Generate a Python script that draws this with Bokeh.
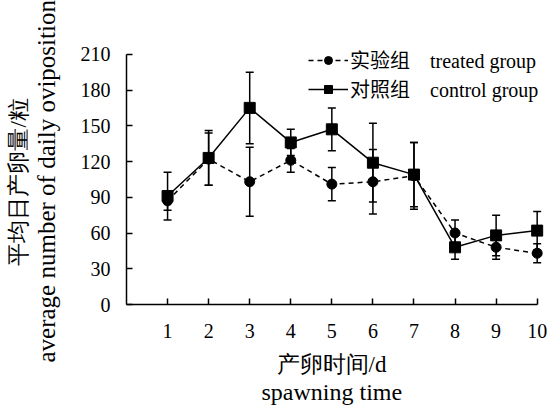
from bokeh.plotting import figure
from bokeh.models import (ColumnDataSource, Whisker, TeeHead, Range1d, FixedTicker,
                          Title, Legend, LegendItem)
from bokeh.embed import file_html
from bokeh.resources import INLINE

# ---- data ----
days = [1, 2, 3, 4, 5, 6, 7, 8, 9, 10]
treated_mean = [87, 122, 103, 121, 101, 103, 108, 60, 48, 43]
treated_err = [8, 22, 29, 10, 14, 27, 28, 11, 10, 8]
control_mean = [91, 123, 165, 136, 147, 119, 109, 48, 58, 62]
control_err = [20, 23, 30, 11, 18, 33, 27, 10, 17, 16]
y_ticks = [0, 30, 60, 90, 120, 150, 180, 210]

treated_label = "实验组\u00a0\u00a0\u00a0\u00a0treated group"
control_label = "对照组\u00a0\u00a0\u00a0\u00a0control group"
x_title_cn = "产卵时间/d"
x_title_en = "spawning time"
y_title_cn = "平均日产卵量/粒"
y_title_en = "average number of daily oviposition"

SERIF = "Liberation Serif, Noto Sans CJK SC"
TSERIF = "Liberation Serif"

p = figure(width=550, height=408, output_backend="svg", toolbar_location=None,
           x_range=Range1d(0, 10.3), y_range=Range1d(0, 240),
           min_border_left=126, min_border_right=1, min_border_top=18,
           min_border_bottom=104)
p.outline_line_color = None
p.xgrid.visible = False
p.ygrid.visible = False
p.background_fill_color = "white"
p.border_fill_color = "white"

for ax in (p.xaxis[0], p.yaxis[0]):
    ax.major_tick_in = 6
    ax.major_tick_out = 0
    ax.minor_tick_line_color = None
    ax.axis_line_width = 1.5
    ax.major_tick_line_width = 1.5
    ax.axis_line_color = "black"
    ax.major_tick_line_color = "black"
    ax.major_label_text_font = SERIF
    ax.major_label_text_font_size = "20px"
    ax.major_label_text_color = "black"
    # invisible spacer label (keeps the titles at their place)
    ax.axis_label = " "
    ax.axis_label_text_font_size = "1px"

p.xaxis[0].ticker = FixedTicker(ticks=days)
p.xaxis[0].bounds = (0, 10)
p.xaxis[0].major_label_standoff = 19
p.xaxis[0].axis_label_standoff = 6
p.yaxis[0].ticker = FixedTicker(ticks=y_ticks)
p.yaxis[0].bounds = (0, 210)
p.yaxis[0].major_label_standoff = 16
p.yaxis[0].axis_label_standoff = 13

src_t = ColumnDataSource(dict(x=days, y=treated_mean,
                              upper=[m + e for m, e in zip(treated_mean, treated_err)],
                              lower=[m - e for m, e in zip(treated_mean, treated_err)]))
src_c = ColumnDataSource(dict(x=days, y=control_mean,
                              upper=[m + e for m, e in zip(control_mean, control_err)],
                              lower=[m - e for m, e in zip(control_mean, control_err)]))

for src in (src_c, src_t):
    w = Whisker(base="x", upper="upper", lower="lower", source=src, dimension="height",
                line_width=1.5, line_color="black",
                upper_head=TeeHead(size=8, line_width=1.5, line_color="black"),
                lower_head=TeeHead(size=8, line_width=1.5, line_color="black"))
    p.add_layout(w)

lt = p.line("x", "y", source=src_t, line_dash="5 4", line_width=1.5, line_color="black")
lc = p.line("x", "y", source=src_c, line_width=1.5, line_color="black")
ct = p.scatter("x", "y", source=src_t, marker="circle", size=10, color="black")
cc = p.scatter("x", "y", source=src_c, marker="square", size=11, color="black")

legend = Legend(items=[LegendItem(label=treated_label, renderers=[lt, ct]),
                       LegendItem(label=control_label, renderers=[lc, cc])],
                location=(182, 201), glyph_width=40, glyph_height=20, label_height=20,
                spacing=-4, padding=0, margin=0, label_standoff=2,
                border_line_alpha=0, background_fill_alpha=0,
                label_text_font=SERIF, label_text_font_size="20px",
                label_text_color="black")
p.add_layout(legend)

def title(text, size, offset):
    return Title(text=text, align="left", offset=offset, standoff=0,
                 vertical_align="middle", text_font=TSERIF, text_font_size=size,
                 text_font_style="normal", text_color="#000000")

# below: axis first, then Chinese line, then English line
p.add_layout(title(x_title_cn, "23px", 150), "below")
p.add_layout(title(x_title_en, "24px", 135), "below")
# left: axis first, then English line, then Chinese line
p.add_layout(title(y_title_en, "25px", -58), "left")
p.add_layout(title(y_title_cn, "23px", 39), "left")

open("out.html", "w").write(file_html(p, INLINE))
